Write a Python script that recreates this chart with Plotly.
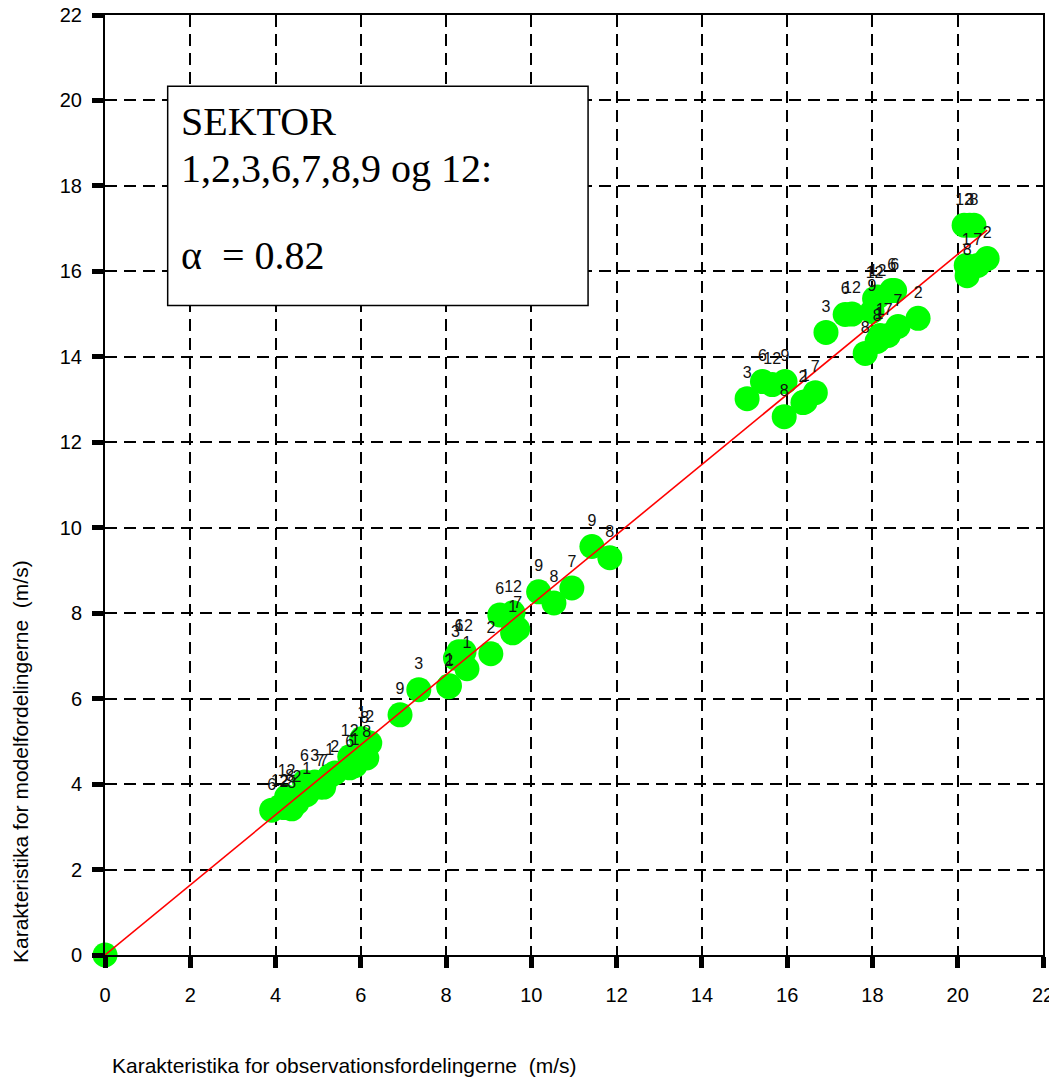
import plotly.graph_objects as go

# Observed characteristic (x), model characteristic (y), sector label
obs_x = [0.0,
         3.91, 4.10, 4.20, 4.38, 4.26, 4.33, 4.50, 4.73, 4.68, 4.92, 5.04, 5.13,
         5.27, 5.39, 5.74, 5.74, 5.86, 6.14, 6.02, 6.09, 6.21,
         6.92, 7.36, 8.06, 8.08, 8.22, 8.30, 8.42, 8.49, 9.05, 9.26, 9.57, 9.56,
         9.68, 10.17, 10.53, 10.95, 11.42, 11.84,
         15.06, 15.42, 15.65, 15.95, 15.93, 16.37, 16.42, 16.66, 16.91, 17.36,
         17.52, 17.99, 18.05, 18.12, 18.45, 18.52, 17.83, 18.11, 18.15, 18.18,
         18.37, 18.60, 19.07, 20.15, 20.28, 20.38, 20.22, 20.20, 20.47, 20.69]
model_y = [0.0,
           3.39, 3.47, 3.45, 3.42, 3.70, 3.58, 3.56, 3.75, 4.05, 4.05, 3.93, 3.93,
           4.19, 4.26, 4.64, 4.38, 4.43, 4.61, 5.06, 4.94, 4.96,
           5.62, 6.21, 6.28, 6.30, 6.95, 7.10, 7.10, 6.70, 7.05, 7.96, 8.01, 7.54,
           7.63, 8.50, 8.24, 8.59, 9.56, 9.30,
           13.02, 13.42, 13.35, 13.42, 12.60, 12.93, 12.95, 13.16, 14.57, 14.99,
           15.00, 15.06, 15.36, 15.40, 15.55, 15.55, 14.08, 14.36, 14.40, 14.50,
           14.50, 14.71, 14.90, 17.08, 17.08, 17.08, 15.90, 16.14, 16.14, 16.30]
sector = ["",
          "6", "12", "2", "8", "12", "8", "2", "1", "6", "3", "7", "7",
          "1", "2", "12", "6", "1", "8", "1", "8", "2",
          "9", "3", "2", "1", "3", "6", "12", "1", "2", "6", "12", "1",
          "7", "9", "8", "7", "9", "8",
          "3", "6", "12", "9", "8", "2", "1", "7", "3", "6",
          "12", "9", "12", "12", "6", "6", "8", "8", "1", "1",
          "7", "7", "2", "12", "3", "8", "8", "1", "7", "2"]

ALPHA = 0.82
ticks = list(range(0, 23, 2))

line_x = sorted(obs_x)
line_y = [ALPHA * v for v in line_x]

sans = "Liberation Sans, Arial"
serif = "Liberation Serif, Times New Roman"

# plot area in page pixels (page has an 8px body margin)
PL, PR, PT, PB = 105, 1043, 15, 955
W, H = 1049, 1073
PW, PH = PR - PL, PB - PT

fig = go.Figure()

fig.add_trace(go.Scatter(
    x=obs_x, y=model_y, mode="markers",
    marker=dict(color="#00ff00", size=25, line=dict(width=0)),
    cliponaxis=False, showlegend=False, hoverinfo="x+y"))

fig.add_trace(go.Scatter(
    x=line_x, y=line_y, mode="lines",
    line=dict(color="#ff0000", width=1.6),
    showlegend=False, hoverinfo="skip"))

fig.add_trace(go.Scatter(
    x=obs_x, y=model_y, mode="markers+text", text=sector,
    marker=dict(size=25, opacity=0),
    textposition="top center",
    textfont=dict(family=sans, size=16, color="#111111"),
    cliponaxis=False, showlegend=False, hoverinfo="skip"))

# annotation box
fig.add_shape(type="rect", xref="x", yref="y", x0=1.47, x1=11.33, y0=15.2, y1=20.33,
              line=dict(color="black", width=1.5), fillcolor="white", layer="above")
box_font = dict(family=serif, size=40, color="black")
fig.add_annotation(x=1.73, y=19.51, xref="x", yref="y", text="SEKTOR",
                   showarrow=False, xanchor="left", yanchor="middle", font=box_font)
fig.add_annotation(x=1.73, y=18.40, xref="x", yref="y", text="1,2,3,6,7,8,9 og 12:",
                   showarrow=False, xanchor="left", yanchor="middle", font=box_font)
fig.add_annotation(x=1.73, y=16.37, xref="x", yref="y", text="α&nbsp;&nbsp;= 0.82",
                   showarrow=False, xanchor="left", yanchor="middle", font=box_font)

# axis titles
title_font = dict(family=sans, size=21, color="black")
fig.add_annotation(x=(110 - PL) / PW, y=(PB - 1065) / PH, xref="paper", yref="paper",
                   xanchor="left", yanchor="middle", showarrow=False,
                   text="Karakteristika for observationsfordelingerne  (m/s)", font=title_font)
fig.add_annotation(x=(20 - PL) / PW, y=(PB - 762) / PH, xref="paper", yref="paper",
                   xanchor="center", yanchor="middle", showarrow=False, textangle=-90,
                   text="Karakteristika for modelfordelingerne  (m/s)", font=title_font)

axis_common = dict(
    range=[0, 22], tickvals=ticks, ticktext=[str(v) for v in ticks],
    showgrid=True, gridcolor="black", gridwidth=2, griddash="12px,7px",
    showline=True, linecolor="black", linewidth=2, mirror=True,
    ticks="outside", ticklen=11, tickwidth=5, tickcolor="black",
    tickfont=dict(family=sans, size=20, color="black"),
    zeroline=False, automargin=False, ticklabeloverflow="allow")

fig.update_xaxes(**axis_common, ticklabelstandoff=10)
fig.update_yaxes(**axis_common, ticklabelstandoff=6)

fig.update_layout(
    width=W, height=H,
    margin=dict(l=PL - 8, r=W + 8 - PR, t=PT - 8, b=H + 8 - PB),
    plot_bgcolor="white", paper_bgcolor="white",
)

fig.write_html("out.html")
